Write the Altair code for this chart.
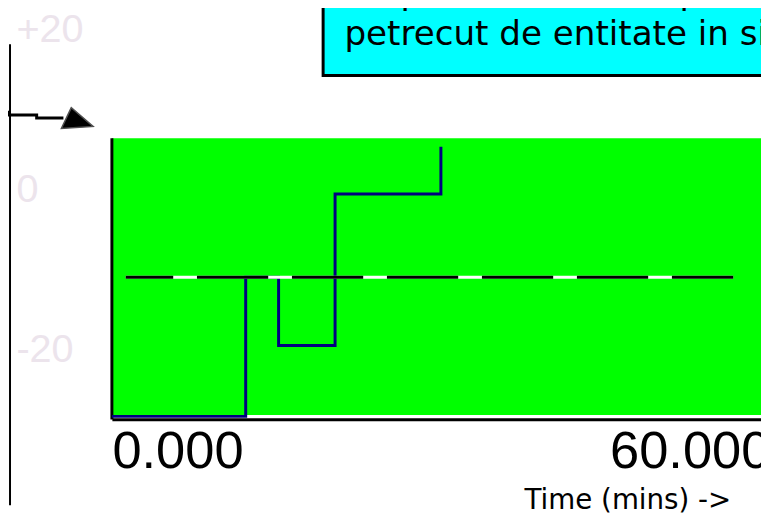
import altair as alt
import pandas as pd

# ---------------- data ----------------
# blue step series (time in minutes, level on a 0-100 band)
step_time = [0.0, 12.2, 15.2, 20.35, 30.0]
step_level = [0.0, 50.0, 25.5, 80.0, 97.0]

# black/white dashed reference level
ref_level = [50.0]
ref_from = [1.26]
ref_to = [56.66]

# axes
x_ticks = [0, 60]
x_title = "Time (mins) ->"
y_ticks = [-20, 0, 20]

# note box text (first line is cut off in the picture)
note_lines = ["timpul total de asteptare(timpul", "petrecut de entitate in sistem)"]

T_DOMAIN = [0, 60]
V_DOMAIN = [0, 100]

# ---------------- layout / style ----------------
W, H = 761, 508
XS = alt.Scale(domain=T_DOMAIN, range=[105, 770], nice=False, zero=False)
YS = alt.Scale(domain=V_DOMAIN, range=[410, 129], nice=False, zero=False)
LS = alt.Scale(domain=[-20, 20], range=[342.6, 19.1], nice=False, zero=False)

GREEN = "#00FF00"
NAVY = "#000080"
CYAN = "#00FFFF"
FAINT = "#ECE4EC"

X_AXIS = alt.Axis(
    values=x_ticks, format=".3f", orient="bottom", offset=413 - H,
    domain=True, domainColor="black", domainWidth=3,
    ticks=False, tickSize=0, grid=False,
    labelFont="Liberation Sans", labelFontSize=53, labelColor="black",
    labelPadding=7, labelFlush=True, labelBaseline="top",
    title=x_title, titleFont="DejaVu Sans", titleFontSize=28,
    titleFontWeight="normal", titleColor="black",
    titleX=626, titleY=90, titleAlign="center", titleBaseline="alphabetic",
    zindex=1,
)


def X(field):
    return alt.X(field, type="quantitative", scale=XS, axis=X_AXIS)


def Y(field):
    return alt.Y(field, type="quantitative", scale=YS, axis=None)


frame_df = pd.DataFrame({"t0": [T_DOMAIN[0]], "t1": [T_DOMAIN[1]],
                         "v0": [V_DOMAIN[0]], "v1": [V_DOMAIN[1]], "vb": [-1.1]})
step_df = pd.DataFrame({"t": step_time, "v": step_level})
ref_df = pd.DataFrame({"t0": ref_from, "t1": ref_to, "v": ref_level})

# annotation shapes (in data units)
box_df = pd.DataFrame({"t0": [19.26], "t1": [75.0], "v0": [122.6], "v1": [170.0]})
note_df = pd.DataFrame({"t": [21.2, 21.2], "v": [148.2, 133.45], "text": note_lines})
left_line_df = pd.DataFrame({"t": [-9.29], "v0": [-32.0], "v1": [133.8]})
conn_df = pd.DataFrame({"t": [-10.2, -9.47, -6.86, -4.42], "v": [109.4, 108.4, 107.3, 107.3]})
head_df = pd.DataFrame({"t": [-3.16], "v": [107.3]})

green = alt.Chart(frame_df).mark_rect(color=GREEN).encode(
    x=X("t0"), x2="t1", y=Y("v0"), y2="v1")

white_strip = alt.Chart(frame_df).mark_rule(color="white", strokeWidth=3).encode(
    x=X("t0"), x2="t1", y=Y("v0"))

left_border = alt.Chart(frame_df).mark_rule(color="black", strokeWidth=3).encode(
    x=X("t0"), y=Y("vb"), y2="v1")

navy = alt.Chart(step_df).mark_line(
    interpolate="step-after", color=NAVY, strokeWidth=3).encode(
    x=X("t"), y=Y("v"))

ref_white = alt.Chart(ref_df).mark_rule(color="white", strokeWidth=3).encode(
    x=X("t0"), x2="t1", y=Y("v"))
ref_black = alt.Chart(ref_df).mark_rule(
    color="black", strokeWidth=3, strokeDash=[72, 24], strokeDashOffset=24).encode(
    x=X("t0"), x2="t1", y=Y("v"))

box = alt.Chart(box_df).mark_rect(fill=CYAN, stroke="black", strokeWidth=3).encode(
    x=X("t0"), x2="t1", y=Y("v0"), y2="v1")

note = alt.Chart(note_df).mark_text(
    align="left", baseline="alphabetic", font="DejaVu Sans", fontSize=34.5,
    color="black").encode(x=X("t"), y=Y("v"), text="text:N")

left_line = alt.Chart(left_line_df).mark_rule(color="black", strokeWidth=2).encode(
    x=X("t"), y=Y("v0"), y2="v1")

connector = alt.Chart(conn_df).mark_line(
    interpolate="step-after", color="black", strokeWidth=3).encode(
    x=X("t"), y=Y("v"))

head = alt.Chart(head_df).mark_point(
    shape="M-0.375,-0.656L-1,0.656L1,0.53Z", size=1024, filled=True,
    fill="black", stroke="#505050", strokeWidth=1.5, opacity=1).encode(
    x=X("t"), y=Y("v"))

faint_axis = alt.Axis(
    values=y_ticks, orient="left", offset=-8, domain=False, ticks=False,
    tickSize=0, grid=False, labelPadding=0, labelAlign="left",
    labelBaseline="middle", labelFont="Liberation Sans", labelFontSize=40,
    labelColor=FAINT, labelExpr="datum.value > 0 ? '+' + datum.value : '' + datum.value",
    title=None, zindex=1,
)
faint = alt.Chart(pd.DataFrame({"y": y_ticks})).mark_point(opacity=0).encode(
    y=alt.Y("y:Q", scale=LS, axis=faint_axis))

chart = alt.layer(
    green, box, note, white_strip, left_border, navy, ref_white, ref_black,
    left_line, connector, head, faint,
).resolve_scale(y="independent").properties(
    width=W, height=H, autosize=alt.AutoSizeParams(type="none"), padding=0,
    background="white",
).configure_view(stroke=None)

chart.save("out.html", embed_options={"renderer": "svg", "actions": False})
